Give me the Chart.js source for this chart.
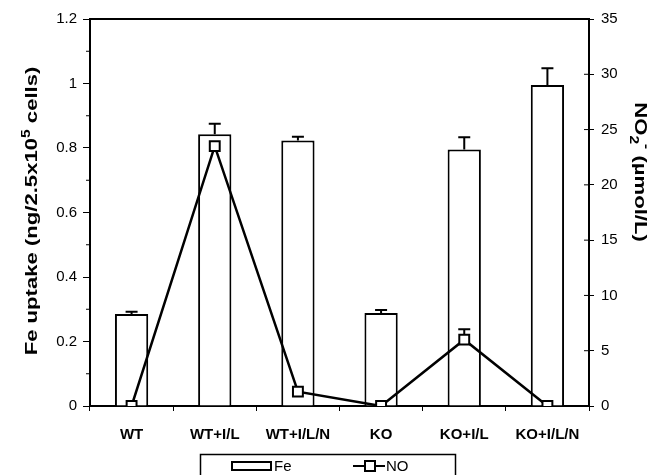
<!DOCTYPE html>
<html>
<head>
<meta charset="utf-8">
<script src="https://cdn.jsdelivr.net/npm/chart.js@4/dist/chart.umd.min.js"></script>
<style>
  body { margin: 0; background: #fff; }
  #wrap { width: 668px; height: 475px; }
</style>
</head>
<body>
<div id="wrap"><canvas id="myChart" width="668" height="475"></canvas></div>
<script>
// data
const groups = ['WT', 'WT+I/L', 'WT+I/L/N', 'KO', 'KO+I/L', 'KO+I/L/N'];
const feValues = [0.285, 0.843, 0.823, 0.288, 0.795, 0.995];
const feErrors = [0.007, 0.032, 0.012, 0.01, 0.038, 0.052];
const noValues = [0, 23.5, 1.3, 0, 6.0, 0];
const noErrors = [0, 0, 0, 0, 0.95, 0];
const feTicks = [0, 0.2, 0.4, 0.6, 0.8, 1, 1.2];
const noTicks = [0, 5, 10, 15, 20, 25, 30, 35];

const FONT = '"Liberation Sans", Arial, sans-serif';

// error bars, only the upper half shows
const errorBars = {
  id: 'errorBars',
  afterDatasetsDraw(chart) {
    const ctx = chart.ctx;
    ctx.save();
    ctx.strokeStyle = '#000';
    ctx.lineWidth = 2;
    const bars = chart.getDatasetMeta(1).data;
    bars.forEach((b, i) => {
      const y0 = chart.scales.y.getPixelForValue(feValues[i]);
      const y1 = chart.scales.y.getPixelForValue(feValues[i] + feErrors[i]);
      ctx.beginPath();
      ctx.moveTo(b.x, y0); ctx.lineTo(b.x, y1);
      ctx.moveTo(b.x - 6, y1); ctx.lineTo(b.x + 6, y1);
      ctx.stroke();
    });
    const pts = chart.getDatasetMeta(0).data;
    pts.forEach((p, i) => {
      if (!noErrors[i]) return;
      const y0 = chart.scales.y1.getPixelForValue(noValues[i]) - 5;
      const y1 = chart.scales.y1.getPixelForValue(noValues[i] + noErrors[i]);
      ctx.beginPath();
      ctx.moveTo(p.x, y0); ctx.lineTo(p.x, y1);
      ctx.moveTo(p.x - 6, y1); ctx.lineTo(p.x + 6, y1);
      ctx.stroke();
    });
    ctx.restore();
  }
};

// frame, minor ticks, axis titles and legend box
const extras = {
  id: 'extras',
  afterDraw(chart) {
    const ctx = chart.ctx;
    const a = chart.chartArea;
    ctx.save();
    ctx.strokeStyle = '#000';
    ctx.fillStyle = '#000';
    ctx.lineWidth = 2;
    ctx.beginPath();
    ctx.moveTo(a.left, a.top); ctx.lineTo(a.right, a.top);
    ctx.stroke();

    // minor ticks on the left axis
    ctx.lineWidth = 1;
    const ys = chart.scales.y;
    for (let i = 0; i < feTicks.length - 1; i++) {
      const yy = ys.getPixelForValue((feTicks[i] + feTicks[i + 1]) / 2);
      ctx.beginPath(); ctx.moveTo(a.left - 4, yy); ctx.lineTo(a.left, yy); ctx.stroke();
    }
    // right axis ticks cross inward too
    const ys1 = chart.scales.y1;
    noTicks.forEach(v => {
      const yy = ys1.getPixelForValue(v);
      ctx.beginPath(); ctx.moveTo(a.right - 5, yy); ctx.lineTo(a.right, yy); ctx.stroke();
    });

    // left title
    ctx.save();
    ctx.translate(31, 211);
    ctx.rotate(-Math.PI / 2);
    ctx.scale(1.3, 1);
    drawParts(ctx, [
      ['Fe uptake (ng/2.5x10', 0], ['5', -1], [' cells)', 0]
    ], 17);
    ctx.restore();

    // right title
    ctx.save();
    ctx.translate(641, 172);
    ctx.rotate(Math.PI / 2);
    ctx.scale(1.3, 1);
    drawParts(ctx, [
      ['NO', 0], ['2', 1], ['-', -1], [' (\u00b5mol/L)', 0]
    ], 17);
    ctx.restore();

    // legend
    ctx.lineWidth = 1.5;
    ctx.strokeRect(200.5, 454.5, 255, 30);
    ctx.lineWidth = 2;
    ctx.fillStyle = '#fff';
    ctx.fillRect(232, 462, 39, 8);
    ctx.strokeRect(232, 462, 39, 8);
    ctx.fillStyle = '#000';
    ctx.font = '15px ' + FONT;
    ctx.textBaseline = 'middle';
    ctx.textAlign = 'left';
    ctx.fillText('Fe', 274, 467);
    ctx.beginPath(); ctx.moveTo(353, 466); ctx.lineTo(385, 466); ctx.stroke();
    ctx.fillStyle = '#fff';
    ctx.fillRect(365, 461, 10, 10);
    ctx.strokeRect(365, 461, 10, 10);
    ctx.fillStyle = '#000';
    ctx.fillText('NO', 386, 467);
    ctx.restore();
  }
};

// text pieces centred at the origin; shift -1 = superscript, 1 = subscript
function drawParts(ctx, parts, size) {
  const small = Math.round(size * 0.68);
  let total = 0;
  parts.forEach(p => {
    ctx.font = 'bold ' + (p[1] ? small : size) + 'px ' + FONT;
    total += ctx.measureText(p[0]).width;
  });
  let x = -total / 2;
  ctx.textBaseline = 'alphabetic';
  ctx.textAlign = 'left';
  parts.forEach(p => {
    ctx.font = 'bold ' + (p[1] ? small : size) + 'px ' + FONT;
    const dy = p[1] === -1 ? -size * 0.4 : p[1] === 1 ? size * 0.3 : 0;
    ctx.fillText(p[0], x, size * 0.35 + dy);
    x += ctx.measureText(p[0]).width;
  });
}

const ctx = document.getElementById('myChart').getContext('2d');
const myChart = new Chart(ctx, {
  type: 'bar',
  data: {
    labels: groups,
    datasets: [{
      type: 'line',
      label: 'NO',
      data: noValues,
      yAxisID: 'y1',
      borderColor: '#000',
      borderWidth: 2.5,
      pointStyle: 'rect',
      pointRadius: 7,
      pointBorderWidth: 2,
      pointBackgroundColor: '#fff',
      pointBorderColor: '#000',
      tension: 0,
      order: 0
    }, {
      label: 'Fe',
      data: feValues,
      yAxisID: 'y',
      backgroundColor: '#fff',
      borderColor: '#000',
      borderWidth: 2,
      categoryPercentage: 0.8,
      barPercentage: 0.5,
      order: 1
    }]
  },
  options: {
    responsive: false,
    animation: false,
    layout: { padding: { top: 19, left: 0, right: 0, bottom: 0 } },
    plugins: {
      legend: { display: false },
      tooltip: { enabled: false }
    },
    scales: {
      x: {
        afterFit(s) { s.height = 69; },
        grid: { display: true, drawOnChartArea: false, drawTicks: true, tickLength: 5, color: '#000', offset: true },
        border: { display: true, color: '#000', width: 2 },
        ticks: { color: '#000', font: { family: FONT, size: 15, weight: 'bold' }, padding: 15, maxRotation: 0 }
      },
      y: {
        position: 'left',
        min: 0, max: 1.2,
        afterFit(s) { s.width = 90; },
        afterBuildTicks(s) { s.ticks = feTicks.map(v => ({ value: v })); },
        grid: { display: true, drawOnChartArea: false, drawTicks: true, tickLength: 7, color: '#000' },
        border: { display: true, color: '#000', width: 2 },
        ticks: { color: '#000', font: { family: FONT, size: 15 }, padding: 6, callback: v => String(v) }
      },
      y1: {
        position: 'right',
        min: 0, max: 35,
        afterFit(s) { s.width = 79; },
        afterBuildTicks(s) { s.ticks = noTicks.map(v => ({ value: v })); },
        grid: { display: true, drawOnChartArea: false, drawTicks: true, tickLength: 5, color: '#000' },
        border: { display: true, color: '#000', width: 2 },
        ticks: { color: '#000', font: { family: FONT, size: 15 }, padding: 7 }
      }
    }
  },
  plugins: [errorBars, extras]
});
</script>
</body>
</html>
